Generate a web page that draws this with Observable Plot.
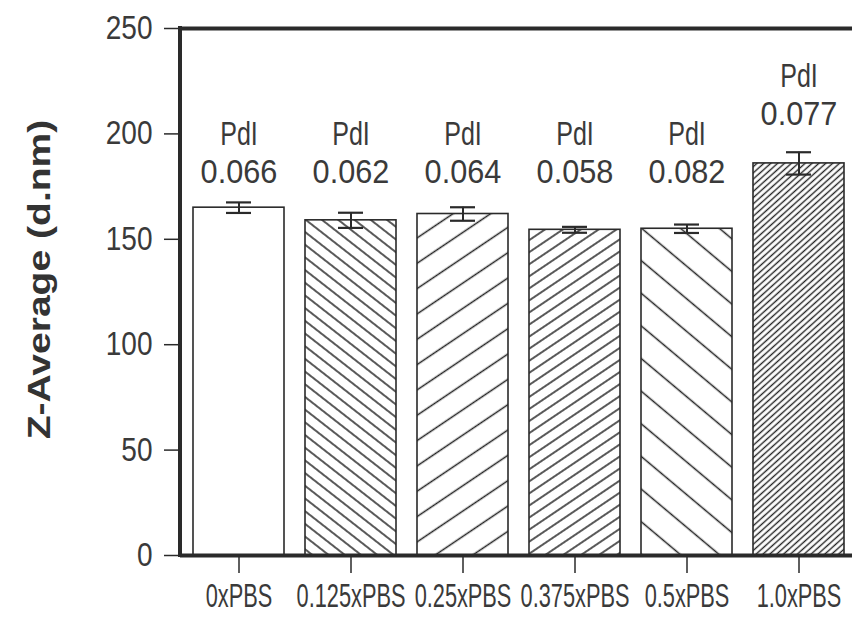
<!DOCTYPE html>
<html><head><meta charset="utf-8">
<script src="https://cdn.jsdelivr.net/npm/d3@7"></script>
<script src="https://cdn.jsdelivr.net/npm/@observablehq/plot@0.6"></script>
<style>
body{margin:0;background:#fff;}
#chart svg text{font-family:"Liberation Sans Narrow","Arial Narrow","Liberation Sans",Arial,sans-serif;}
</style></head><body><div id="chart"></div>
<script>
// ---- data ----
const categories = ["0xPBS", "0.125xPBS", "0.25xPBS", "0.375xPBS", "0.5xPBS", "1.0xPBS"];
const zAverage = [165, 159, 162, 154.5, 155, 186];
const zError = [2.5, 3.6, 3.2, 1.4, 2, 5.3];
const pdiValues = ["0.066", "0.062", "0.064", "0.058", "0.082", "0.077"];
const yTicks = [0, 50, 100, 150, 200, 250];
const yTitle = "Z-Average (d.nm)";
const pdiLabel = "PdI";

// ---- styles (hatch patterns per bar) ----
const barFills = ["white", "url(#h1)", "url(#h2)", "url(#h3)", "url(#h4)", "url(#h5)"];
const hatch = [
  null,
  {id: "h1", angle: 38, gap: 10},
  {id: "h2", angle: -34, gap: 21},
  {id: "h3", angle: -34, gap: 10},
  {id: "h4", angle: 40, gap: 25},
  {id: "h5", angle: -42, gap: 4.6}
];

const data = categories.map((c, i) => ({c, z: zAverage[i], e: zError[i], pdi: pdiValues[i], fill: barFills[i]}));

const LABEL_LEVEL = 176.5;
const W = 854, H = 618, ML = 180, MR = 2, MT = 28, MB = 63;
const INK = "#2a2a2a";
const TXT = "#3a3a3a";

function leftAxisLine(index, scales, values, dims) {
  return d3.create("svg:line")
    .attr("x1", dims.marginLeft).attr("x2", dims.marginLeft)
    .attr("y1", dims.marginTop - 2).attr("y2", dims.height - dims.marginBottom + 2)
    .attr("stroke", INK).attr("stroke-width", 4).node();
}
function yTitleMark(index, scales, values, dims) {
  const cy = (dims.marginTop + dims.height - dims.marginBottom) / 2 - 12;
  return d3.create("svg:text")
    .attr("transform", `translate(39,${cy}) rotate(-90) scale(1.26,1)`)
    .attr("text-anchor", "middle").attr("dominant-baseline", "central")
    .attr("font-size", 31).attr("font-weight", "bold").attr("fill", "#333")
    .text(yTitle).node();
}
const labelY = d => d.z < LABEL_LEVEL ? LABEL_LEVEL : d.z + d.e + 13;

const svg = Plot.plot({
  width: W, height: H,
  marginLeft: ML, marginRight: MR, marginTop: MT, marginBottom: MB,
  style: {background: "white", color: TXT},
  x: {domain: categories, range: [180, 857.5], paddingInner: 0.19, paddingOuter: 0.095, label: null},
  y: {domain: [0, 250], label: null},
  color: {type: "identity"},
  marks: [
    Plot.barY(data, {x: "c", y: "z", fill: "fill", stroke: INK, strokeWidth: 1.6}),
    Plot.ruleX(data, {x: "c", y1: d => d.z - d.e, y2: d => d.z + d.e, stroke: INK, strokeWidth: 2}),
    Plot.tickY(data, {x: "c", y: d => d.z + d.e, insetLeft: 33, insetRight: 33, stroke: INK, strokeWidth: 2.2}),
    Plot.tickY(data, {x: "c", y: d => d.z - d.e, insetLeft: 33, insetRight: 33, stroke: INK, strokeWidth: 2.2}),
    Plot.text(data, {x: "c", y: labelY, text: () => pdiLabel, lineAnchor: "bottom", dy: -38, fontSize: 33, fill: TXT}),
    Plot.text(data, {x: "c", y: labelY, text: "pdi", lineAnchor: "bottom", fontSize: 33, fill: TXT}),
    Plot.ruleY([0], {stroke: INK, strokeWidth: 4}),
    Plot.ruleY([250], {stroke: INK, strokeWidth: 4}),
    leftAxisLine,
    Plot.axisY({ticks: yTicks, tickSize: 16, tickPadding: 12, fontSize: 33, label: null, tickFormat: d => d, stroke: INK, strokeWidth: 1.5}),
    Plot.axisX({tickSize: 18, tickPadding: 9, fontSize: 34, label: null, stroke: INK, strokeWidth: 1.5}),
    yTitleMark
  ]
});

// pattern definitions
const defs = d3.create("svg:defs");
hatch.filter(h => h).forEach(h => {
  const p = defs.append("pattern").attr("id", h.id)
    .attr("patternUnits", "userSpaceOnUse")
    .attr("width", 40).attr("height", h.gap)
    .attr("patternTransform", `rotate(${h.angle})`);
  p.append("rect").attr("width", 40).attr("height", h.gap).attr("fill", "white");
  p.append("line").attr("x1", 0).attr("x2", 40).attr("y1", h.gap / 2).attr("y2", h.gap / 2)
    .attr("stroke", "#222").attr("stroke-width", 1.3);
});
svg.insertBefore(defs.node(), svg.firstChild);
document.getElementById("chart").appendChild(svg);

// condense lettering horizontally (reference uses a tall, narrow face)
function squeeze(selection, k) {
  selection.each(function() {
    const t = this.getAttribute("transform");
    if (t && /translate/.test(t) && !this.hasAttribute("x")) {
      this.setAttribute("transform", `${t} scale(${k},1)`);
    } else {
      const len = this.getComputedTextLength();
      this.setAttribute("textLength", (len * k).toFixed(1));
      this.setAttribute("lengthAdjust", "spacingAndGlyphs");
    }
  });
}
const S = d3.select(svg);
squeeze(S.selectAll('g[aria-label="x-axis tick label"] text'), 0.64);
squeeze(S.selectAll('g[aria-label="y-axis tick label"] text'), 0.85);
const textGroups = S.selectAll('g[aria-label="text"]').nodes();
squeeze(d3.select(textGroups[0]).selectAll("text"), 0.76);
squeeze(d3.select(textGroups[1]).selectAll("text"), 0.93);
</script></body></html>
